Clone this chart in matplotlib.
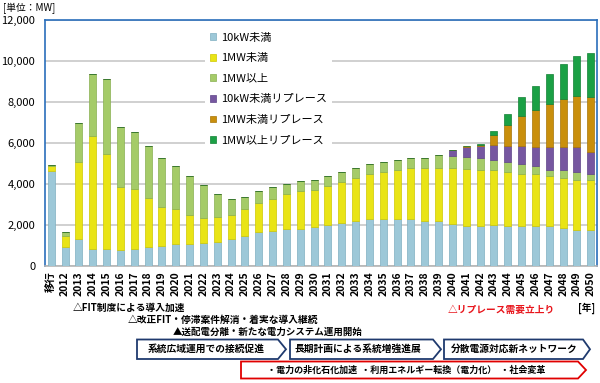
import matplotlib
matplotlib.use('Agg')
import matplotlib.pyplot as plt
from matplotlib.patches import Polygon
import numpy as np

plt.rcParams['font.family'] = ['Noto Sans CJK JP', 'DejaVu Sans']

categories = ['移行', '2012', '2013', '2014', '2015', '2016', '2017', '2018', '2019', '2020',
              '2021', '2022', '2023', '2024', '2025', '2026', '2027', '2028', '2029', '2030',
              '2031', '2032', '2033', '2034', '2035', '2036', '2037', '2038', '2039', '2040',
              '2041', '2042', '2043', '2044', '2045', '2046', '2047', '2048', '2049', '2050']

under_10kw = [4650, 950, 1300, 810, 850, 780, 830, 930, 990, 1070,
              1070, 1120, 1190, 1300, 1480, 1680, 1690, 1790, 1820, 1900,
              1980, 2080, 2200, 2290, 2290, 2280, 2290, 2210, 2210, 2070,
              1970, 1970, 1980, 1960, 1950, 1950, 1950, 1870, 1770, 1770]
under_1mw = [250, 510, 3790, 5510, 4610, 3090, 2910, 2390, 1870, 1710,
             1420, 1220, 1190, 1190, 1300, 1400, 1580, 1720, 1820, 1790,
             1920, 2020, 2110, 2210, 2310, 2420, 2510, 2590, 2590, 2720,
             2760, 2710, 2720, 2630, 2520, 2530, 2440, 2420, 2420, 2420]
over_1mw = [50, 180, 1910, 3060, 3680, 2910, 2790, 2530, 2420, 2110,
            1900, 1600, 1120, 800, 600, 600, 570, 490, 490, 500,
            490, 490, 470, 490, 490, 490, 490, 470, 600, 590,
            570, 600, 480, 470, 520, 390, 290, 390, 390, 290]
repl_10kw = [0] * 29 + [280, 490, 570, 720, 810, 880, 945, 1130, 1110, 1210, 1060]
repl_1mw_under = [0] * 30 + [50, 60, 470, 1015, 1456, 1800, 2090, 2350, 2516, 2700]
repl_1mw_over = [0] * 31 + [40, 200, 540, 900, 1180, 1450, 1700, 1960, 2160]

series_names = ['10kW未満', '1MW未満', '1MW以上', '10kW未満リプレース', '1MW未満リプレース', '1MW以上リプレース']
series_vals = [under_10kw, under_1mw, over_1mw, repl_10kw, repl_1mw_under, repl_1mw_over]
series_colors = ['#9DC8D8', '#E9E416', '#A5CB68', '#7657A0', '#C98F0C', '#1BA045']
edge_colors = ['#7FAEC0', '#CFC800', '#88B050', '#5E4488', '#A87508', '#138034']

y_ticks = [0, 2000, 4000, 6000, 8000, 10000, 12000]

fig = plt.figure(figsize=(6, 3.83), dpi=100)
ax = fig.add_axes([45/600, 1-266/383, (597-45)/600, (266-20)/383])

x = np.arange(len(categories))
bottom = np.zeros(len(x))
for vals, col, ecol, name in zip(series_vals, series_colors, edge_colors, series_names):
    v = np.array(vals, dtype=float)
    ax.bar(x, v, 0.5, bottom=bottom, color=col, edgecolor=ecol, linewidth=0.5,
           label=name, zorder=3)
    bottom += v

ax.set_xlim(-0.45, 39.45)
ax.set_ylim(0, 12000)
ax.set_yticks(y_ticks)
ax.set_yticklabels([f'{t:,}' for t in y_ticks], fontsize=8)
ax.yaxis.grid(True, color='#C8C8C8', lw=1.2, zorder=0)
ax.set_axisbelow(True)
ax.tick_params(axis='both', length=0)
ax.tick_params(axis='y', pad=7)
ax.tick_params(axis='x', pad=4)
ax.set_xticks(x)
ax.set_xticklabels(categories, rotation=90, fontsize=7.5, fontweight='bold')
for s in ['left', 'top', 'right']:
    ax.spines[s].set_color('#2A6EBB')
    ax.spines[s].set_linewidth(1.2)
ax.spines['bottom'].set_color('#B5B5B5')
ax.spines['bottom'].set_linewidth(1.2)

leg = ax.legend(loc='upper left', bbox_to_anchor=(199/600, 1-22/383),
                bbox_transform=fig.transFigure, frameon=True, facecolor='white',
                edgecolor='none', framealpha=1, fancybox=False, fontsize=8,
                handlelength=0.55, handleheight=0.55, handletextpad=0.5,
                labelspacing=0.95, borderpad=0.45)

ov = fig.add_axes([0, 0, 1, 1])
ov.set_xlim(0, 600)
ov.set_ylim(383, 0)
ov.axis('off')
ov.patch.set_alpha(0)

ov.text(3, 8, '[単位：MW]', fontsize=7, va='center', ha='left')

notes = [
    (73, 308, '△FIT制度による導入加速', 'black', 7),
    (128, 320, '△改正FIT・停滞案件解消・着実な導入継続', 'black', 7),
    (173, 331.5, '▲送配電分離・新たな電力システム運用開始', 'black', 6.8),
    (448, 310, '△リプレース需要立上り', '#E8141B', 7),
    (578, 308, '[年]', 'black', 7),
]
for nx, ny, txt, col, fs in notes:
    ov.text(nx, ny, txt, fontsize=fs, fontweight='bold', color=col, va='center', ha='left')

boxes = [
    (137, 278, 286, 339.5, 359, '系統広域運用での接続促進', '#1F3A6E', 206, 7),
    (290, 433, 441, 339.5, 359, '長期計画による系統増強進展', '#1F3A6E', 358, 7),
    (444, 583, 590, 339.5, 359, '分散電源対応新ネットワーク', '#1F3A6E', 514, 7),
    (241, 578, 586, 361.5, 378.5, '・電力の非化石化加速  ・利用エネルギー転換（電力化）  ・社会変革', '#E00000', 406, 6.5),
]
for l, r, tip, t, b, txt, col, cx, fs in boxes:
    poly = Polygon([(l, t), (r, t), (tip, (t+b)/2), (r, b), (l, b)], closed=True,
                   facecolor='white', edgecolor=col, linewidth=1.3)
    ov.add_patch(poly)
    ov.text(cx, (t+b)/2, txt, fontsize=fs, fontweight='bold', color='black',
            va='center', ha='center')

fig.savefig('out.png', dpi=100)
